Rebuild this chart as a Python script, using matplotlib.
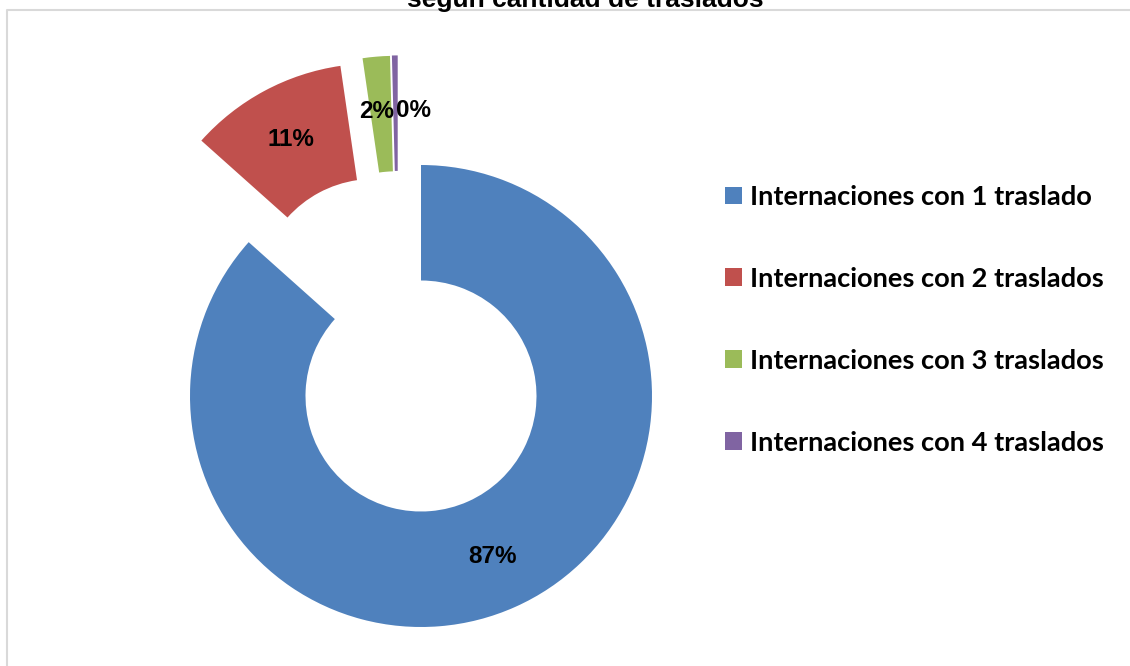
import matplotlib
matplotlib.use("Agg")
import matplotlib.pyplot as plt
import numpy as np

# ---- data ----
categories = ["Internaciones con 1 traslado", "Internaciones con 2 traslados",
              "Internaciones con 3 traslados", "Internaciones con 4 traslados"]
values = [86.6, 11.1, 1.9, 0.4]
title_visible = "según cantidad de traslados"

# ---- styles ----
colors = ["#4F81BD", "#C0504D", "#9BBB59", "#8064A2"]
explode_dist = [0.0, 0.485, 0.485, 0.485]      # fraction of radius
explode_dir = [None, 115.0, 103.0, 102.0]      # direction of explosion (deg)

W, H = 1130, 666
fig = plt.figure(figsize=(W / 100, H / 100), dpi=100)
ax = fig.add_axes([0, 0, 1, 1])

R = 231
cx, cy = 421, H - 396
wedges, _ = ax.pie(values, colors=colors, startangle=90, counterclock=False,
                   radius=R, center=(cx, cy), frame=True,
                   wedgeprops=dict(width=R * 0.5, linewidth=0))
ax.set_xlim(0, W)
ax.set_ylim(0, H)
ax.set_aspect("equal")
ax.axis("off")

label_font = dict(family="Liberation Sans", fontweight="bold", fontsize=17.5, color="black")
for i, (w, v) in enumerate(zip(wedges, values)):
    c = np.array(w.center, dtype=float)
    if explode_dist[i] > 0:
        a = np.deg2rad(explode_dir[i])
        c = c + explode_dist[i] * R * np.array([np.cos(a), np.sin(a)])
        w.set_center(tuple(c))
    mid = np.deg2rad((w.theta1 + w.theta2) / 2)
    r_lab = R * 0.76
    pos = c + r_lab * np.array([np.cos(mid), np.sin(mid)])
    ha = "center"
    if i == 3:
        ha = "left"
    if i == 2:
        pos = pos + np.array([-4, 0])
    ax.text(pos[0], pos[1], f"{v:.0f}%", ha=ha, va="center", **label_font)

# frame (chart area border, partially visible)
ax.plot([7, 7, W], [0, H - 10, H - 10], color="#d9d9d9", lw=1.5, solid_capstyle="butt")

# title (only lower part visible, as in the reference)
ax.text(585, H - 7, title_visible, ha="center", va="baseline",
        family="Liberation Sans", fontweight="bold", fontsize=19)

leg = ax.legend(wedges, categories, loc="upper left", bbox_to_anchor=(725 / W, 1 - 185 / H),
                bbox_transform=fig.transFigure, frameon=False,
                prop=dict(family="Lato", weight="bold", size=19.6),
                handlelength=0.63, handleheight=0.63, handletextpad=0.3,
                labelspacing=2.13, borderaxespad=0, borderpad=0)

fig.savefig("out.png", dpi=100)
